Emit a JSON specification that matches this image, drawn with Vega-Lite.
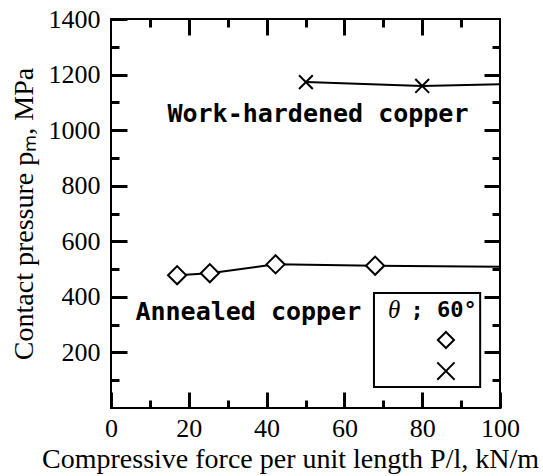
{
  "$schema": "https://vega.github.io/schema/vega-lite/v6.json",
  "width": 389,
  "height": 389,
  "autosize": {"type": "none"},
  "padding": {"left": 111, "top": 19, "right": 43, "bottom": 68},
  "background": "white",
  "config": {
    "view": {"stroke": "black", "strokeWidth": 2},
    "axis": {"domain": false, "grid": false, "tickWidth": 3, "labelFontSize": 26, "format": "d"}
  },
  "datasets": {
    "series": [
      {"series": "Annealed copper", "x": 17, "y": 478},
      {"series": "Annealed copper", "x": 25.4, "y": 485},
      {"series": "Annealed copper", "x": 42.3, "y": 517},
      {"series": "Annealed copper", "x": 67.9, "y": 512},
      {"series": "Annealed copper", "x": 100, "y": 508},
      {"series": "Work-hardened copper", "x": 50.1, "y": 1173},
      {"series": "Work-hardened copper", "x": 80, "y": 1159},
      {"series": "Work-hardened copper", "x": 100, "y": 1165}
    ],
    "legendBox": [{"x": 67.6, "x2": 94.9, "y": 75.6, "y2": 413.8}],
    "legendSymbols": [
      {"series": "Annealed copper", "x": 86.1, "y": 244.7},
      {"series": "Work-hardened copper", "x": 86.1, "y": 133}
    ],
    "notes": [
      {"text": "Work-hardened copper", "x": 53.2, "y": 1058},
      {"text": "Annealed copper", "x": 35.3, "y": 345}
    ],
    "legendTheta": [{"text": "θ", "x": 71.2, "y": 352.6}],
    "legendAngle": [{"text": "; 60°", "x": 77.0, "y": 352.6}]
  },
  "layer": [
    {
      "data": {"name": "series"},
      "transform": [{"filter": "datum.series === 'Annealed copper'"}],
      "mark": {"type": "line", "color": "black", "strokeWidth": 2},
      "encoding": {
        "x": {"field": "x", "type": "quantitative", "scale": {"domain": [0, 100]},
          "axis": {"orient": "bottom", "values": [0, 20, 40, 60, 80, 100], "tickSize": -16, "tickColor": "#000000",
            "labelPadding": 23, "labelFlush": false, "labelFont": "Liberation Serif", "labelColor": "black",
            "labelExpr": "datum.value === 0 ? '0\u00a0\u00a0\u00a0\u00a0\u00a0' : datum.label",
            "title": "Compressive force per unit length P/l, kN/m", "titleFont": "Liberation Serif", "titleFontSize": 28, "titleFontWeight": "normal", "titleColor": "black", "titleX": 179, "titlePadding": 4}},
        "y": {"field": "y", "type": "quantitative", "scale": {"domain": [0, 1400]},
          "axis": {"orient": "left", "values": [200, 400, 600, 800, 1000, 1200, 1400], "tickSize": -16, "tickColor": "#000000",
            "labelPadding": 27, "labelFlush": false, "labelFont": "Liberation Serif", "labelColor": "black",
            "title": "Contact pressure pₘ, MPa", "titleFont": "Liberation Serif", "titleFontSize": 28, "titleFontWeight": "normal", "titleColor": "black", "titlePadding": 10}}
      }
    },
    {
      "data": {"name": "series"},
      "transform": [{"filter": "datum.series === 'Work-hardened copper'"}],
      "mark": {"type": "line", "color": "black", "strokeWidth": 2},
      "encoding": {
        "x": {"field": "x", "type": "quantitative", "axis": {"orient": "top", "values": [20, 40, 60, 80], "tickSize": -16, "tickColor": "#000000", "labels": false, "title": null}},
        "y": {"field": "y", "type": "quantitative", "axis": {"orient": "right", "values": [200, 400, 600, 800, 1000, 1200], "tickSize": -16, "tickColor": "#000000", "labels": false, "title": null}}
      }
    },
    {
      "data": {"name": "series"},
      "transform": [{"filter": "datum.series === 'Annealed copper' && datum.x < 100"}],
      "mark": {"type": "point", "shape": "diamond", "size": 330, "filled": true, "fill": "white", "stroke": "black", "strokeWidth": 2, "opacity": 1},
      "encoding": {
        "x": {"field": "x", "type": "quantitative", "axis": {"orient": "bottom", "values": [10, 30, 50, 70, 90], "tickSize": -8, "tickColor": "#000000", "labels": false, "title": null}},
        "y": {"field": "y", "type": "quantitative", "axis": {"orient": "left", "values": [100, 300, 500, 700, 900, 1100, 1300], "tickSize": -8, "tickColor": "#000000", "labels": false, "title": null}}
      }
    },
    {
      "data": {"name": "series"},
      "transform": [{"filter": "datum.series === 'Work-hardened copper' && datum.x < 100"}],
      "mark": {"type": "point", "shape": "M-1,-1L1,1M-1,1L1,-1", "size": 190, "filled": false, "stroke": "black", "strokeWidth": 2, "opacity": 1},
      "encoding": {
        "x": {"field": "x", "type": "quantitative", "axis": {"orient": "top", "values": [10, 30, 50, 70, 90], "tickSize": -8, "tickColor": "#000000", "labels": false, "title": null}},
        "y": {"field": "y", "type": "quantitative", "axis": {"orient": "right", "values": [100, 300, 500, 700, 900, 1100, 1300], "tickSize": -8, "tickColor": "#000000", "labels": false, "title": null}}
      }
    },
    {
      "data": {"name": "legendBox"},
      "mark": {"type": "rect", "fill": "white", "stroke": "black", "strokeWidth": 2},
      "encoding": {
        "x": {"field": "x", "type": "quantitative", "axis": null},
        "x2": {"field": "x2"},
        "y": {"field": "y", "type": "quantitative", "axis": null},
        "y2": {"field": "y2"}
      }
    },
    {
      "data": {"name": "legendSymbols"},
      "transform": [{"filter": "datum.series === 'Annealed copper'"}],
      "mark": {"type": "point", "shape": "diamond", "size": 260, "filled": true, "fill": "white", "stroke": "black", "strokeWidth": 2, "opacity": 1},
      "encoding": {
        "x": {"field": "x", "type": "quantitative", "axis": null},
        "y": {"field": "y", "type": "quantitative", "axis": null}
      }
    },
    {
      "data": {"name": "legendSymbols"},
      "transform": [{"filter": "datum.series === 'Work-hardened copper'"}],
      "mark": {"type": "point", "shape": "M-1,-1L1,1M-1,1L1,-1", "size": 300, "filled": false, "stroke": "black", "strokeWidth": 2, "opacity": 1},
      "encoding": {
        "x": {"field": "x", "type": "quantitative", "axis": null},
        "y": {"field": "y", "type": "quantitative", "axis": null}
      }
    },
    {
      "data": {"name": "notes"},
      "mark": {"type": "text", "font": "DejaVu Sans Mono", "fontSize": 25, "fontWeight": "bold", "color": "black", "align": "center", "baseline": "middle"},
      "encoding": {
        "x": {"field": "x", "type": "quantitative", "axis": null},
        "y": {"field": "y", "type": "quantitative", "axis": null},
        "text": {"field": "text"}
      }
    },
    {
      "data": {"name": "legendTheta"},
      "mark": {"type": "text", "font": "Liberation Serif", "fontSize": 25, "fontStyle": "italic", "color": "black", "align": "left", "baseline": "middle"},
      "encoding": {
        "x": {"field": "x", "type": "quantitative", "axis": null},
        "y": {"field": "y", "type": "quantitative", "axis": null},
        "text": {"field": "text"}
      }
    },
    {
      "data": {"name": "legendAngle"},
      "mark": {"type": "text", "font": "DejaVu Sans Mono", "fontSize": 22, "fontWeight": "bold", "color": "black", "align": "left", "baseline": "middle"},
      "encoding": {
        "x": {"field": "x", "type": "quantitative", "axis": null},
        "y": {"field": "y", "type": "quantitative", "axis": null},
        "text": {"field": "text"}
      }
    }
  ],
  "resolve": {"axis": {"x": "independent", "y": "independent"}}
}
